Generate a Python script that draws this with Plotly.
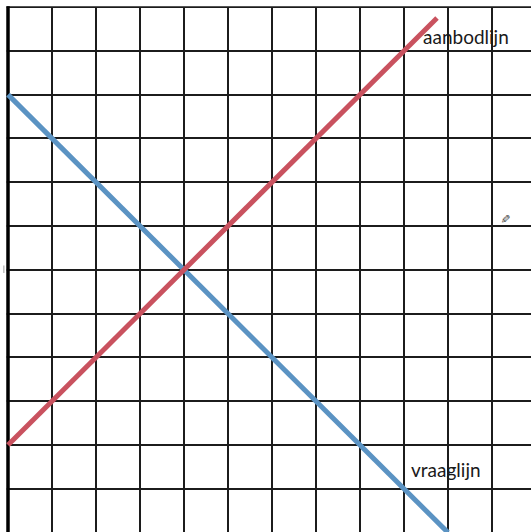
import plotly.graph_objects as go

# Quantity / price grid (one cell = one unit)
grid_x_max = 11.886
grid_y_min = 0.014
grid_y_top = 12.0
grid_y_max = 12.16

# Demand line (vraaglijn)
demand_q = [0, 10]
demand_p = [10, 0]

# Supply line (aanbodlijn)
supply_q = [0, 9.75]
supply_p = [2, 11.75]

labels = ["aanbodlijn", "vraaglijn"]
label_q = [10.4, 9.95]
label_p = [11.33, 1.43]

fig = go.Figure()

fig.add_trace(go.Scatter(
    x=demand_q, y=demand_p, mode="lines",
    line=dict(color="#5b93c3", width=5), hoverinfo="skip", showlegend=False,
))
fig.add_trace(go.Scatter(
    x=supply_q, y=supply_p, mode="lines",
    line=dict(color="#c9525f", width=5), hoverinfo="skip", showlegend=False,
))

# white borders outside the grid (above the top line, left of the axis)
fig.add_shape(type="rect", xref="x", yref="y", layer="between",
              x0=-0.2, x1=grid_x_max + 0.1, y0=grid_y_top + 0.02, y1=grid_y_max + 0.05,
              line=dict(width=0), fillcolor="white")
fig.add_shape(type="rect", xref="x", yref="y", layer="between",
              x0=-0.2, x1=-0.03, y0=grid_y_min - 0.1, y1=grid_y_max + 0.05,
              line=dict(width=0), fillcolor="white")

# thick vertical axis
fig.add_shape(type="line", xref="x", yref="y", layer="between",
              x0=0, x1=0, y0=grid_y_top + 0.02, y1=grid_y_min - 0.1,
              line=dict(color="black", width=3.5))
# small faint mark left of the axis
fig.add_shape(type="line", xref="x", yref="y", layer="between",
              x0=-0.095, x1=-0.095, y0=5.93, y1=6.1,
              line=dict(color="#bdbdbd", width=1.5))

for txt, q, p in zip(labels, label_q, label_p):
    fig.add_annotation(x=q, y=p, text=txt, showarrow=False,
                       font=dict(family="Lato", size=19, color="#1a1a1a"))

fig.add_annotation(x=11.3, y=7.18, text="✐", showarrow=False, textangle=180,
                   font=dict(family="DejaVu Sans", size=12, color="#444444"))

fig.update_xaxes(range=[-8 / 44, grid_x_max], tick0=0, dtick=1,
                 showgrid=True, gridcolor="#1c1c1c", gridwidth=1.5,
                 zeroline=False, showticklabels=False, ticks="", showline=False)
fig.update_yaxes(range=[grid_y_min, grid_y_max], tick0=0, dtick=1,
                 showgrid=True, gridcolor="#1c1c1c", gridwidth=1.5,
                 zeroline=False, showticklabels=False, ticks="", showline=False)

fig.update_layout(
    width=531, height=532,
    margin=dict(l=0, r=0, t=0, b=0),
    paper_bgcolor="white", plot_bgcolor="white",
)

fig.write_html("out.html")
